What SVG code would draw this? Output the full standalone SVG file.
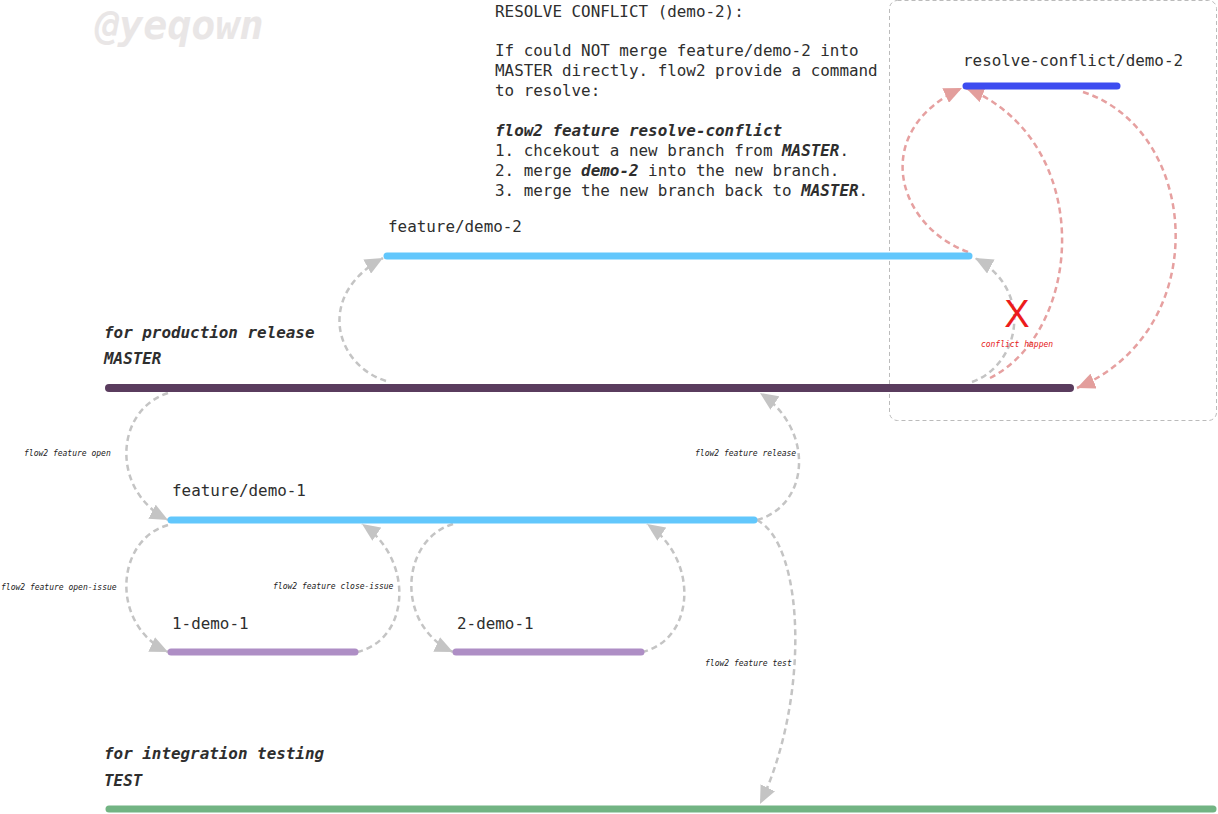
<svg xmlns="http://www.w3.org/2000/svg" width="1218" height="814" viewBox="0 0 1218 814">
<style>
.t{font-family:"DejaVu Sans Mono","Liberation Mono",monospace;fill:#2e2e2e;font-size:15.9px}
.b{font-weight:bold;font-style:italic}
.s{font-family:"DejaVu Sans Mono","Liberation Mono",monospace;font-size:8px;font-style:italic;fill:#222}
.bar{fill:none;stroke-linecap:round}
.g{fill:none;stroke:#c4c4c4;stroke-width:2.5;stroke-dasharray:6 4}
.r{fill:none;stroke:#e6a0a0;stroke-width:2.5;stroke-dasharray:6 4}
</style>
<defs>
<marker id="ag" viewBox="0 0 18 16" refX="18" refY="8" markerWidth="18" markerHeight="16" markerUnits="userSpaceOnUse" orient="auto"><path d="M0,0 L18,8 L0,16 z" fill="#c4c4c4"/></marker>
<marker id="ar" viewBox="0 0 18 16" refX="18" refY="8" markerWidth="18" markerHeight="16" markerUnits="userSpaceOnUse" orient="auto"><path d="M0,0 L18,8 L0,16 z" fill="#e39e9c"/></marker>
</defs>
<rect width="1218" height="814" fill="#ffffff"/>
<text x="95" y="39" font-family="DejaVu Sans Mono,monospace" font-size="40" font-weight="bold" font-style="italic" fill="#e9e6e6">@yeqown</text>
<rect x="889.5" y="0.5" width="327" height="420" rx="8" fill="none" stroke="#bbbbbb" stroke-width="1" stroke-dasharray="4 3"/>
<g id="note" class="t">
<text x="495" y="17">RESOLVE CONFLICT (demo-2):</text>
<text x="495" y="56">If could NOT merge feature/demo-2 into</text>
<text x="495" y="76">MASTER directly. flow2 provide a command</text>
<text x="495" y="96">to resolve:</text>
<text x="495" y="136" class="b">flow2 feature resolve-conflict</text>
<text x="495" y="156">1. chcekout a new branch from <tspan class="b">MASTER</tspan>.</text>
<text x="495" y="176">2. merge <tspan class="b">demo-2</tspan> into the new branch.</text>
<text x="495" y="196">3. merge the new branch back to <tspan class="b">MASTER</tspan>.</text>
</g>
<g id="connectors">
<path class="g" d="M386,381 C335,365 315,295 383,258" marker-end="url(#ag)"/>
<path class="g" d="M168,393 C115,410 110,490 168,520" marker-end="url(#ag)"/>
<path class="g" d="M168,525 C115,540 110,625 168,652" marker-end="url(#ag)"/>
<path class="g" d="M357,652 C410,640 415,560 362,524" marker-end="url(#ag)"/>
<path class="g" d="M453,524 C400,540 395,625 453,652" marker-end="url(#ag)"/>
<path class="g" d="M642,652 C695,640 700,560 647,524" marker-end="url(#ag)"/>
<path class="g" d="M757,520 C810,505 815,430 760,393" marker-end="url(#ag)"/>
<path class="g" d="M757,520 C805,545 810,700 760,804" marker-end="url(#ag)"/>
<path class="r" d="M990,378 C1085,330 1095,140 966,88" marker-end="url(#ar)"/>
<path class="g" d="M972,382 C1020,365 1035,290 975,258" marker-end="url(#ag)"/>
<path class="r" d="M968,252 C895,225 870,130 962,88" marker-end="url(#ar)"/>
<path class="r" d="M1083,92 C1200,130 1215,330 1077,388" marker-end="url(#ar)"/>
<text class="s" x="24" y="456">flow2 feature open</text>
<text class="s" x="1" y="590">flow2 feature open-issue</text>
<text class="s" x="273" y="589">flow2 feature close-issue</text>
<text class="s" x="695" y="456">flow2 feature release</text>
<text class="s" x="705" y="666">flow2 feature test</text>
</g>
<g id="master">
<text class="t b" x="104" y="338">for production release</text>
<text class="t b" x="104" y="364">MASTER</text>
<line class="bar" x1="109" y1="388" x2="1070" y2="388" stroke="#5a3c5e" stroke-width="8"/>
</g>
<g id="feature-demo-2">
<text class="t" x="388" y="232">feature/demo-2</text>
<line class="bar" x1="387" y1="256" x2="969" y2="256" stroke="#62c7fc" stroke-width="7"/>
</g>
<g id="resolve-conflict-demo-2">
<text class="t" x="963" y="66">resolve-conflict/demo-2</text>
<line class="bar" x1="966" y1="86" x2="1117" y2="86" stroke="#3d4cf0" stroke-width="7"/>
</g>
<g id="feature-demo-1">
<text class="t" x="172" y="496">feature/demo-1</text>
<line class="bar" x1="171" y1="520" x2="754" y2="520" stroke="#62c7fc" stroke-width="7"/>
</g>
<g id="one-demo-1">
<text class="t" x="172" y="629">1-demo-1</text>
<line class="bar" x1="171" y1="652" x2="355" y2="652" stroke="#ae8ec5" stroke-width="7"/>
</g>
<g id="two-demo-1">
<text class="t" x="457" y="629">2-demo-1</text>
<line class="bar" x1="456" y1="652" x2="641" y2="652" stroke="#ae8ec5" stroke-width="7"/>
</g>
<g id="test">
<text class="t b" x="104" y="759">for integration testing</text>
<text class="t b" x="104" y="786">TEST</text>
<line class="bar" x1="109" y1="809" x2="1213" y2="809" stroke="#72b483" stroke-width="7"/>
</g>
<g id="conflict">
<text x="1017" y="327" text-anchor="middle" font-family="Liberation Sans,sans-serif" font-size="38" fill="#ec1c1c">X</text>
<text x="1017" y="347" text-anchor="middle" font-family="DejaVu Sans Mono,monospace" font-size="8" font-style="italic" fill="#e62020">conflict happen</text>
</g>
</svg>
